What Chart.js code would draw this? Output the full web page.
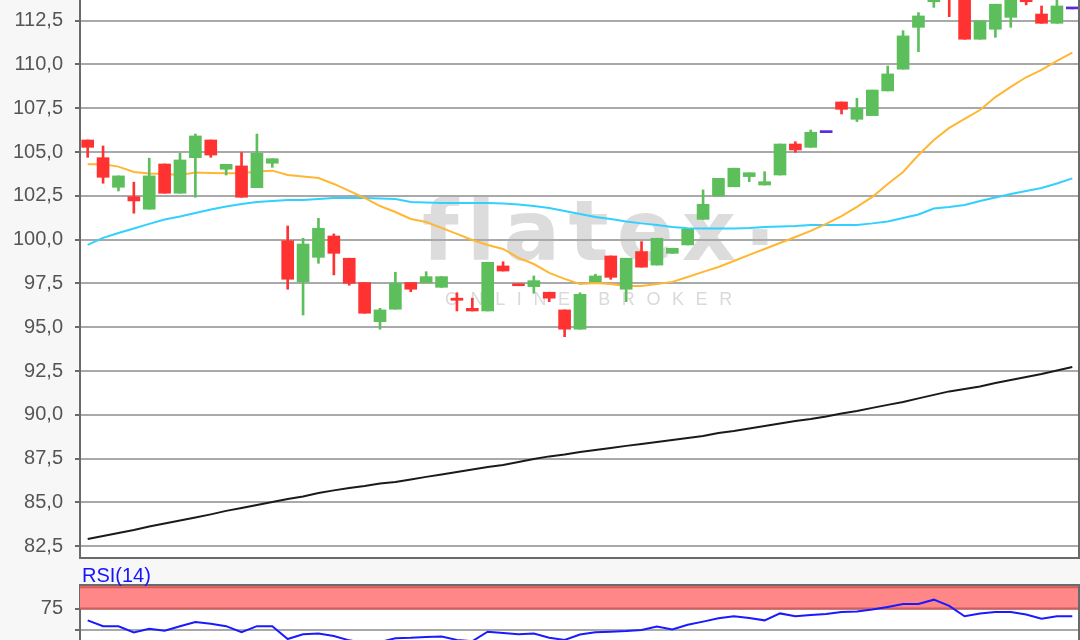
<!DOCTYPE html>
<html>
<head>
<meta charset="utf-8">
<script src="https://cdn.jsdelivr.net/npm/chart.js@4.4.1/dist/chart.umd.min.js"></script>
<style>
  html, body { margin: 0; padding: 0; background: #f7f7f7; overflow: hidden; }
  #price { position: absolute; left: 0; top: 0; }
  #rsi { position: absolute; left: 0; top: 560px; }
</style>
</head>
<body>
<canvas id="price" width="1080" height="560"></canvas>
<canvas id="rsi" width="1080" height="80"></canvas>
<script>
// trading days shown (65 candles)
const days = [1, 2, 3, 4, 5, 6, 7, 8, 9, 10, 11, 12, 13, 14, 15, 16, 17, 18, 19, 20,
  21, 22, 23, 24, 25, 26, 27, 28, 29, 30, 31, 32, 33, 34, 35, 36, 37, 38, 39, 40,
  41, 42, 43, 44, 45, 46, 47, 48, 49, 50, 51, 52, 53, 54, 55, 56, 57, 58, 59, 60,
  61, 62, 63, 64, 65];

const opens = [105.69, 104.68, 102.99, 102.45, 101.74, 104.32, 102.65, 104.68, 105.69, 104.02,
  104.21, 102.97, 104.36, 99.94, 97.60, 98.99, 100.21, 98.94, 97.55, 95.32,
  96.03, 97.55, 97.55, 97.28, 96.66, 96.08, 95.93, 98.50, 97.47, 97.32,
  97.00, 95.99, 94.89, 97.60, 99.07, 97.17, 99.32, 98.55, 99.22, 99.70,
  101.16, 102.49, 103.02, 103.60, 103.12, 103.69, 105.46, 105.27, 106.11, 107.86,
  106.87, 107.08, 108.49, 109.73, 112.12, 113.58, 114.60, 114.10, 111.44, 112.01,
  112.69, 114.10, 112.88, 112.35, 113.17];
const highs = [105.69, 105.35, 103.64, 103.28, 104.65, 104.32, 104.93, 106.03, 105.69, 104.30,
  104.97, 106.03, 104.62, 100.78, 100.08, 101.22, 100.33, 98.94, 97.55, 96.08,
  98.14, 97.55, 98.17, 97.89, 96.97, 96.66, 98.71, 98.74, 97.47, 97.93,
  97.00, 95.99, 96.97, 98.03, 99.07, 98.94, 99.89, 100.08, 99.51, 100.59,
  102.84, 103.50, 104.08, 103.82, 103.88, 105.46, 105.59, 106.26, 106.11, 107.86,
  108.07, 108.54, 109.91, 111.93, 112.96, 114.30, 114.80, 114.30, 112.48, 113.44,
  114.10, 114.20, 113.34, 113.80, 113.17];
const lows = [104.70, 103.22, 102.78, 101.51, 101.74, 102.65, 102.65, 102.42, 104.70, 103.69,
  102.42, 102.97, 104.13, 97.17, 95.70, 98.65, 97.99, 97.40, 95.80, 94.89,
  96.03, 97.03, 97.55, 97.28, 95.93, 95.93, 95.93, 98.21, 97.37, 96.94,
  96.46, 94.46, 94.89, 97.60, 97.74, 96.46, 98.43, 98.55, 99.22, 99.70,
  101.16, 102.49, 103.02, 103.31, 103.12, 103.69, 104.99, 105.27, 106.11, 107.17,
  106.74, 107.08, 108.49, 109.73, 110.73, 113.26, 112.73, 111.44, 111.44, 111.55,
  112.12, 113.40, 112.35, 112.35, 113.17];
const closes = [105.27, 103.56, 103.64, 102.21, 103.64, 102.65, 104.55, 105.92, 104.83, 104.30,
  102.42, 104.93, 104.62, 97.74, 99.75, 100.65, 99.22, 97.51, 95.80, 95.99,
  97.51, 97.17, 97.89, 97.89, 96.54, 95.93, 98.71, 98.21, 97.37, 97.66,
  96.66, 94.89, 96.88, 97.93, 97.85, 98.94, 98.43, 100.08, 99.51, 100.59,
  102.02, 103.50, 104.08, 103.82, 103.31, 105.46, 105.12, 106.13, 106.11, 107.44,
  107.50, 108.54, 109.46, 111.63, 112.77, 114.10, 114.00, 111.44, 112.48, 113.44,
  113.90, 113.58, 112.35, 113.34, 113.17];

// moving averages
const ma20 = [104.30, 104.30, 104.17, 103.86, 103.78, 103.75, 103.69, 103.84, 103.81, 103.79,
  103.79, 103.89, 103.94, 103.69, 103.61, 103.52, 103.18, 102.78, 102.38, 101.92,
  101.58, 101.18, 101.01, 100.67, 100.33, 99.98, 99.70, 99.47, 98.96, 98.61,
  98.10, 97.76, 97.47, 97.53, 97.47, 97.36, 97.36, 97.47, 97.59, 97.87,
  98.16, 98.44, 98.78, 99.13, 99.47, 99.81, 100.15, 100.50, 100.90, 101.35,
  101.87, 102.44, 103.18, 103.86, 104.83, 105.69, 106.38, 106.89, 107.40, 108.14,
  108.72, 109.27, 109.69, 110.20, 110.67];
const ma50 = [99.70, 100.10, 100.38, 100.64, 100.90, 101.15, 101.32, 101.52, 101.72, 101.89,
  102.04, 102.15, 102.21, 102.27, 102.27, 102.32, 102.38, 102.38, 102.38, 102.35,
  102.32, 102.15, 102.12, 102.10, 102.10, 102.10, 102.10, 102.07, 102.01, 101.92,
  101.81, 101.64, 101.47, 101.30, 101.18, 101.04, 100.93, 100.84, 100.72, 100.65,
  100.64, 100.64, 100.64, 100.67, 100.72, 100.75, 100.78, 100.84, 100.84, 100.84,
  100.84, 100.93, 101.04, 101.24, 101.44, 101.78, 101.87, 101.98, 102.21, 102.41,
  102.61, 102.78, 102.95, 103.21, 103.50];
const ma200 = [82.92, 83.09, 83.26, 83.43, 83.63, 83.80, 83.97, 84.14, 84.32, 84.52,
  84.69, 84.86, 85.03, 85.20, 85.34, 85.54, 85.69, 85.83, 85.94, 86.08,
  86.17, 86.31, 86.46, 86.60, 86.74, 86.88, 87.03, 87.14, 87.31, 87.48,
  87.63, 87.74, 87.88, 88.00, 88.11, 88.23, 88.34, 88.45, 88.57, 88.68,
  88.80, 88.97, 89.08, 89.22, 89.37, 89.51, 89.65, 89.77, 89.91, 90.08,
  90.22, 90.40, 90.57, 90.74, 90.94, 91.14, 91.34, 91.48, 91.62, 91.82,
  91.99, 92.16, 92.33, 92.53, 92.73];

const rsi14 = [61.3, 54.5, 54.3, 47.3, 51.4, 49.3, 54.5, 59.4, 57.4, 54.5,
  47.5, 54.5, 54.5, 39.5, 45.0, 46.0, 43.0, 38.0, 35.0, 36.0,
  40.5, 41.0, 42.0, 42.5, 38.5, 37.0, 48.0, 46.5, 45.0, 46.0,
  41.0, 38.5, 44.7, 47.4, 48.0, 48.8, 50.0, 54.1, 50.8, 56.1,
  59.8, 63.7, 66.1, 64.0, 61.3, 69.4, 66.1, 67.5, 68.7, 71.0,
  71.7, 73.9, 76.9, 80.3, 80.3, 85.4, 78.2, 66.1, 69.4, 71.0,
  71.0, 68.1, 63.3, 66.1, 66.1];

const priceTicks = [82.5, 85, 87.5, 90, 92.5, 95, 97.5, 100, 102.5, 105, 107.5, 110, 112.5];
const rsiTicks = [50, 75];
const rsiTickLabels = ['', '75'];

const UP = '#5cbf5c', DOWN = '#ff3232', FLAT = '#5a2ad8';
const candleColor = opens.map((o, i) => closes[i] > o ? UP : (closes[i] < o ? DOWN : FLAT));

const FONT = '"Liberation Sans", Arial, sans-serif';
const AXIS = '#6a6a6a';

const yAxisBase = {
  // fixed axis width, and no extra room reserved for half labels at the ends
  afterFit: s => { s.width = 80; s.paddingTop = 0; s.paddingBottom = 0; },
  grid: { color: '#a9a9a9', lineWidth: 2, tickLength: 5, tickColor: AXIS, tickWidth: 2 },
  border: { color: AXIS, width: 2 },
};

const framePrice = {
  id: 'framePrice',
  beforeDraw(chart) {
    const { ctx, chartArea: a } = chart;
    ctx.save();
    ctx.fillStyle = '#ffffff';
    ctx.fillRect(a.left, a.top, a.width, a.height);
    // watermark
    ctx.fillStyle = '#dcdcdc';
    ctx.font = 'bold 84px "DejaVu Sans", sans-serif';
    ctx.textBaseline = 'alphabetic';
    ctx.letterSpacing = '0px';
    const w = ctx.measureText('flatex').width;
    ctx.letterSpacing = Math.max(0, (315 - w) / 5.5) + 'px';
    ctx.fillText('flatex', 422, 260);
    ctx.letterSpacing = '0px';
    ctx.fillText('.', 744, 245);
    ctx.fillStyle = '#dadada';
    ctx.font = '18px ' + FONT;
    const w2 = ctx.measureText('ONLINE BROKER').width;
    ctx.letterSpacing = ((293 - w2) / 12.5) + 'px';
    ctx.fillText('ONLINE BROKER', 445, 305);
    ctx.restore();
  },
  afterDraw(chart) {
    const { ctx, chartArea: a } = chart;
    ctx.save();
    ctx.strokeStyle = AXIS;
    ctx.lineWidth = 2;
    ctx.beginPath();
    ctx.moveTo(a.left, a.bottom);
    ctx.lineTo(a.right, a.bottom);
    ctx.moveTo(a.right - 1, a.top);
    ctx.lineTo(a.right - 1, a.bottom);
    ctx.stroke();
    ctx.restore();
  }
};

new Chart(document.getElementById('price'), {
  type: 'bar',
  data: {
    labels: days,
    datasets: [
      { label: 'Body', data: opens.map((o, i) => [o, closes[i]]), backgroundColor: candleColor,
        barThickness: 12, minBarLength: 2, grouped: false, order: 0 },
      { label: 'Docht', data: lows.map((l, i) => [l, highs[i]]), backgroundColor: candleColor,
        barThickness: 2, grouped: false, order: 1 },
      { type: 'line', label: 'GD20', data: ma20, borderColor: '#ffb733', borderWidth: 2,
        pointRadius: 0, order: 2 },
      { type: 'line', label: 'GD50', data: ma50, borderColor: '#33d0ff', borderWidth: 2,
        pointRadius: 0, order: 3 },
      { type: 'line', label: 'GD200', data: ma200, borderColor: '#1a1a1a', borderWidth: 2,
        pointRadius: 0, order: 4 }
    ]
  },
  options: {
    responsive: false,
    animation: false,
    devicePixelRatio: 1,
    layout: { padding: { left: 0, right: 0, top: 0, bottom: 2 } },
    plugins: { legend: { display: false }, tooltip: { enabled: false } },
    scales: {
      x: { display: false, offset: true },
      y: Object.assign({}, yAxisBase, {
        min: 81.83, max: 113.68,
        afterBuildTicks: s => { s.ticks = priceTicks.map(v => ({ value: v })); },
        ticks: { padding: 12, color: '#555', font: { family: FONT, size: 20 },
          callback: v => v.toFixed(1).replace('.', ',') }
      })
    }
  },
  plugins: [framePrice]
});

const frameRsi = {
  id: 'frameRsi',
  beforeDraw(chart) {
    const { ctx, chartArea: a } = chart;
    ctx.save();
    ctx.fillStyle = '#ffffff';
    ctx.fillRect(a.left, a.top, a.width, a.height);
    ctx.restore();
  },
  beforeDatasetsDraw(chart) {
    const { ctx, chartArea: a, scales: { y } } = chart;
    const y75 = y.getPixelForValue(75), y100 = y.getPixelForValue(100);
    ctx.save();
    ctx.fillStyle = '#ff8787';
    ctx.fillRect(a.left, a.top, a.width, y75 - a.top);
    ctx.strokeStyle = '#d65c5c';
    ctx.lineWidth = 2;
    ctx.beginPath();
    ctx.moveTo(a.left, y75); ctx.lineTo(a.right, y75);
    ctx.moveTo(a.left, y100); ctx.lineTo(a.right, y100);
    ctx.stroke();
    ctx.restore();
  },
  afterDraw(chart) {
    const { ctx, chartArea: a } = chart;
    ctx.save();
    ctx.strokeStyle = AXIS;
    ctx.lineWidth = 2;
    ctx.beginPath();
    ctx.moveTo(a.left - 1, a.top);
    ctx.lineTo(a.right, a.top);
    ctx.moveTo(a.right - 1, a.top);
    ctx.lineTo(a.right - 1, a.bottom);
    ctx.stroke();
    ctx.fillStyle = '#1414ff';
    ctx.font = '20px ' + FONT;
    ctx.textBaseline = 'alphabetic';
    ctx.fillText('RSI(14)', 82, 22);
    ctx.restore();
  }
};

new Chart(document.getElementById('rsi'), {
  type: 'line',
  data: {
    labels: days,
    datasets: [
      { label: 'RSI(14)', data: rsi14, borderColor: '#1a1aff', borderWidth: 2, pointRadius: 0 }
    ]
  },
  options: {
    responsive: false,
    animation: false,
    devicePixelRatio: 1,
    layout: { padding: { left: 0, right: 0, top: 25, bottom: 0 } },
    plugins: { legend: { display: false }, tooltip: { enabled: false } },
    scales: {
      x: { display: false, offset: true },
      y: Object.assign({}, yAxisBase, {
        min: 38.4, max: 102.5,
        afterBuildTicks: s => { s.ticks = rsiTicks.map(v => ({ value: v })); },
        ticks: { padding: 12, color: '#555', font: { family: FONT, size: 20 },
          callback: (v, i) => rsiTickLabels[i] }
      })
    }
  },
  plugins: [frameRsi]
});
</script>
</body>
</html>
